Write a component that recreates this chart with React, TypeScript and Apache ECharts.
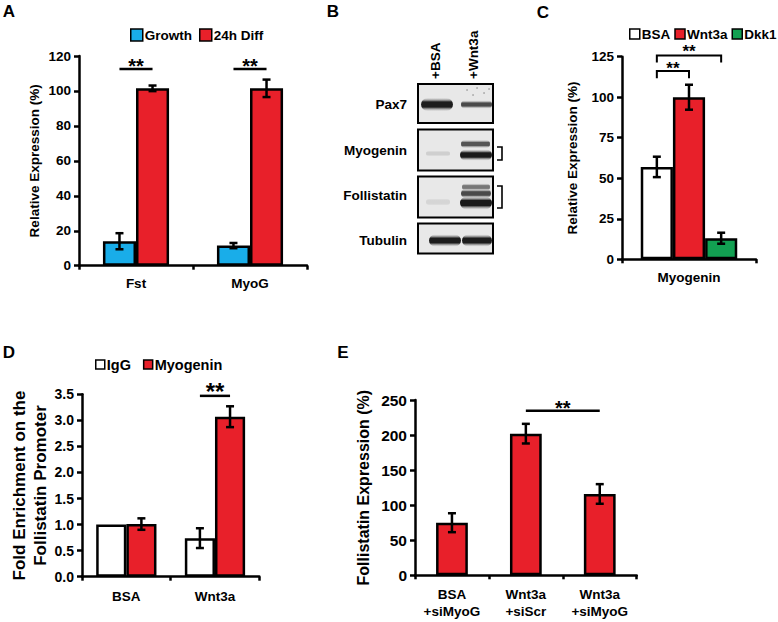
import React, { useEffect, useRef } from 'react';
import * as echarts from 'echarts';

const FONT = "'Liberation Sans', Arial, Helvetica, sans-serif";
const BLUE = '#19ade9';
const RED = '#e8202a';
const GREEN = '#12a052';
const WHITE = '#ffffff';
const BLACK = '#000000';

// ---------- Panel A ----------
const aCategories = ['Fst', 'MyoG'];
const aNames = ['Growth', '24h Diff'];
const aGrowth = [14, 11.5];
const aGrowthErr = [4.6, 1.5];
const aDiff = [101.5, 101.5];
const aDiffErr = [1.6, 5];
const aYMax = 120;
const aYStep = 20;
// [cat1, bar1, cat2, bar2, lineY, legY, starY]
const aSig = [
  [0, 0, 0, 1, 112.6, 112.6, 117],
  [1, 0, 1, 1, 112.6, 112.6, 117],
];

// ---------- Panel C ----------
const cCategories = ['Myogenin'];
const cNames = ['BSA', 'Wnt3a', 'Dkk1'];
const cValues = [57, 100, 13];
const cErrors = [6.3, 7.7, 3.4];
const cYMax = 125;
const cYStep = 25;
const cSig = [
  [0, 0, 0, 1, 116.2, 111.7, 119.9],
  [0, 0, 0, 2, 125.7, 121.4, 130.9],
];

// ---------- Panel D ----------
const dCategories = ['BSA', 'Wnt3a'];
const dNames = ['IgG', 'Myogenin'];
const dIgG = [1.0, 0.74];
const dIgGErr = [0, 0.19];
const dMyo = [1.01, 3.07];
const dMyoErr = [0.11, 0.2];
const dYMax = 3.5;
const dYStep = 0.5;
const dSig = [[1, 0, 1, 1, 3.47, 3.47, 3.66]];

// ---------- Panel E ----------
const eCategories = ['BSA\n+siMyoG', 'Wnt3a\n+siScr', 'Wnt3a\n+siMyoG'];
const eName = 'Follistatin';
const eValues = [75, 202, 116];
const eErrors = [13.5, 14, 14];
const eYMax = 250;
const eYStep = 50;
const eSig = [[1, 0, 2, 0, 234.7, 234.7, 245]];

// ---------- Panel B (western blot) ----------
const blotLanes = ['+BSA', '+Wnt3a'];
const blotRows = ['Pax7', 'Myogenin', 'Follistatin', 'Tubulin'];

const txt = (size: number) => ({
  color: BLACK,
  fontWeight: 'bold' as const,
  fontSize: size,
  fontFamily: FONT,
});

function xAxisFor(gi: number, data: string[], size: number, margin: number) {
  return {
    type: 'category',
    gridIndex: gi,
    data,
    boundaryGap: true,
    axisLine: { show: true, lineStyle: { color: BLACK, width: 2.5 } },
    axisTick: { show: true, length: 4, interval: 0, lineStyle: { color: BLACK, width: 2.5 } },
    axisLabel: { ...txt(size), margin, lineHeight: 17, interval: 0 },
    splitLine: { show: false },
  };
}

function yAxisFor(
  gi: number,
  max: number,
  step: number,
  size: number,
  name: string,
  nameSize: number,
  nameGap: number,
  decimals: number,
) {
  return {
    type: 'value',
    gridIndex: gi,
    min: 0,
    max,
    interval: step,
    axisLine: { show: true, lineStyle: { color: BLACK, width: 2.5 } },
    axisTick: { show: true, length: 5, lineStyle: { color: BLACK, width: 2.5 } },
    axisLabel: {
      ...txt(size),
      margin: 8,
      formatter: (v: number) => v.toFixed(decimals),
    },
    splitLine: { show: false },
    name,
    nameLocation: 'middle',
    nameGap,
    nameRotate: 90,
    nameTextStyle: { ...txt(nameSize), lineHeight: 21 },
  };
}

function barFor(gi: number, name: string, data: number[], color: string, width: string) {
  return {
    type: 'bar',
    name,
    xAxisIndex: gi,
    yAxisIndex: gi,
    data,
    barWidth: width,
    barGap: '0%',
    itemStyle: { color, borderColor: BLACK, borderWidth: 2.5 },
    z: 2,
  };
}

function errFor(gi: number, values: number[], errs: number[], idx: number, n: number, pct: number) {
  return {
    type: 'custom',
    xAxisIndex: gi,
    yAxisIndex: gi,
    z: 5,
    silent: true,
    data: values.map((v, i) => [i, v, errs[i]]),
    renderItem: (_p: any, api: any) => {
      const c = api.value(0);
      const v = api.value(1);
      const e = api.value(2);
      if (!e) return { type: 'group', children: [] };
      const band = api.size([1, 0])[0];
      const bw = band * pct;
      const off = (idx - (n - 1) / 2) * bw;
      const top = api.coord([c, v + e]);
      const bot = api.coord([c, v - e]);
      const x = top[0] + off;
      const cap = 4;
      const st = { stroke: BLACK, lineWidth: 2.5 };
      return {
        type: 'group',
        children: [
          { type: 'line', shape: { x1: x, y1: top[1], x2: x, y2: bot[1] }, style: st },
          { type: 'line', shape: { x1: x - cap, y1: top[1], x2: x + cap, y2: top[1] }, style: st },
          { type: 'line', shape: { x1: x - cap, y1: bot[1], x2: x + cap, y2: bot[1] }, style: st },
        ],
      };
    },
  };
}

function sigFor(gi: number, marks: number[][], n: number, pct: number, fs: number, lw: number) {
  return {
    type: 'custom',
    xAxisIndex: gi,
    yAxisIndex: gi,
    z: 6,
    silent: true,
    clip: false,
    data: marks,
    renderItem: (_p: any, api: any) => {
      const band = api.size([1, 0])[0];
      const bw = band * pct;
      const xOf = (c: number, s: number) => api.coord([c, 0])[0] + (s - (n - 1) / 2) * bw;
      const x1 = xOf(api.value(0), api.value(1));
      const x2 = xOf(api.value(2), api.value(3));
      const y = api.coord([0, api.value(4)])[1];
      const leg = api.coord([0, api.value(5)])[1];
      const ty = api.coord([0, api.value(6)])[1];
      return {
        type: 'group',
        children: [
          {
            type: 'polyline',
            shape: { points: [[x1, leg], [x1, y], [x2, y], [x2, leg]] },
            style: { stroke: BLACK, lineWidth: lw, fill: 'none' },
          },
          {
            type: 'text',
            x: (x1 + x2) / 2,
            y: ty + fs * 0.23,
            style: {
              text: '**',
              fill: BLACK,
              font: `bold ${fs}px ${FONT}`,
              align: 'center',
              verticalAlign: 'middle',
              textAlign: 'center',
              textVerticalAlign: 'middle',
            },
          },
        ],
      };
    },
  };
}

function legendFor(names: string[], left: number, top: number, size: number, icon: number, gap: number) {
  return {
    data: names,
    left,
    top,
    width: 300,
    padding: 0,
    icon: 'rect',
    itemWidth: icon,
    itemHeight: icon,
    itemGap: gap,
    selectedMode: false,
    textStyle: { ...txt(size), padding: [0, 0, 0, -3] },
    itemStyle: { borderColor: BLACK, borderWidth: 1.5 },
  };
}

function gText(text: string, x: number, y: number, size: number, align = 'center', rotation = 0) {
  return {
    type: 'text',
    x,
    y,
    rotation,
    silent: true,
    style: {
      text,
      fill: BLACK,
      font: `bold ${size}px ${FONT}`,
      align,
      verticalAlign: 'middle',
      textAlign: align,
      textVerticalAlign: 'middle',
    },
  };
}

function band(x: number, y: number, w: number, h: number, color: string) {
  return {
    type: 'rect',
    silent: true,
    shape: { x, y, width: w, height: h, r: h / 2 },
    style: {
      fill: {
        type: 'linear',
        x: 0,
        y: 0,
        x2: 0,
        y2: 1,
        colorStops: [
          { offset: 0, color: 'rgba(200,200,200,0.2)' },
          { offset: 0.3, color },
          { offset: 0.7, color },
          { offset: 1, color: 'rgba(200,200,200,0.2)' },
        ],
      },
    },
  };
}

function blotGraphic() {
  const boxX = 418;
  const boxW = 75;
  const boxes = [
    [84, 39],
    [129.5, 41],
    [176.5, 41],
    [223.5, 30],
  ];
  const rowY = [104, 150, 195.5, 240.5];
  const els: any[] = [];
  boxes.forEach(([y, h]) => {
    els.push({
      type: 'rect',
      silent: true,
      shape: { x: boxX, y, width: boxW, height: h },
      style: { fill: '#e8e8e8', stroke: BLACK, lineWidth: 2 },
    });
  });
  // bands
  els.push(band(421, 98, 32, 13, '#1c1c1c'));
  els.push(band(461, 100.5, 31, 8, '#4a4a4a'));
  els.push(band(426, 151, 24, 5, '#cfcfcf'));
  els.push(band(461, 140, 29, 8, '#555555'));
  els.push(band(460, 149.5, 32, 11, '#1a1a1a'));
  els.push(band(426, 199, 24, 6, '#d5d5d5'));
  els.push(band(462, 183.5, 28, 7, '#777777'));
  els.push(band(461, 189, 30, 9, '#4a4a4a'));
  els.push(band(460, 196.5, 32, 13, '#1a1a1a'));
  els.push(band(429, 234.5, 32, 12, '#1c1c1c'));
  els.push(band(462, 234.5, 30, 12, '#1c1c1c'));
  // speckles on Pax7 +Wnt3a lane
  [[467, 90], [477, 88], [484, 93], [489, 89], [473, 95]].forEach(([x, y]) =>
    els.push({ type: 'circle', silent: true, shape: { cx: x, cy: y, r: 0.7 }, style: { fill: '#777' } }),
  );
  // row labels
  blotRows.forEach((r, i) => els.push(gText(r, 407, rowY[i], 13.5, 'right')));
  // lane labels (rotated)
  els.push(gText(blotLanes[0], 435, 79, 13.5, 'left', Math.PI / 2));
  els.push(gText(blotLanes[1], 473, 79, 13.5, 'left', Math.PI / 2));
  // brackets
  els.push({
    type: 'polyline',
    silent: true,
    shape: { points: [[497, 147], [502, 147], [502, 160], [497, 160]] },
    style: { stroke: BLACK, lineWidth: 1.6, fill: 'none' },
  });
  els.push({
    type: 'polyline',
    silent: true,
    shape: { points: [[497, 186], [502, 186], [502, 208], [497, 208]] },
    style: { stroke: BLACK, lineWidth: 1.6, fill: 'none' },
  });
  return els;
}

export default function App() {
  const ref = useRef<HTMLDivElement>(null);
  useEffect(() => {
    if (!ref.current) return;
    const chart = echarts.init(ref.current, undefined, { renderer: 'svg' });
    const option: any = {
      animation: false,
      backgroundColor: '#ffffff',
      grid: [
        { left: 79, top: 56, width: 228, height: 209.7 },
        { left: 622, top: 56.7, width: 134, height: 202.6 },
        { left: 82, top: 394.3, width: 177.3, height: 182.4 },
        { left: 415, top: 400, width: 221.7, height: 175.3 },
      ],
      legend: [
        legendFor(aNames, 130, 28, 13.5, 12, 7),
        legendFor(cNames, 629, 27, 13.5, 10, 4),
        legendFor(dNames, 95, 357, 14.5, 9, 12),
      ],
      xAxis: [
        xAxisFor(0, aCategories, 13.5, 9),
        xAxisFor(1, cCategories, 13.5, 10),
        xAxisFor(2, dCategories, 13.5, 11),
        xAxisFor(3, eCategories, 13.5, 11),
      ],
      yAxis: [
        yAxisFor(0, aYMax, aYStep, 13.5, 'Relative Expression (%)', 13.5, 34, 0),
        yAxisFor(1, cYMax, cYStep, 13.5, 'Relative Expression (%)', 13.5, 39, 0),
        yAxisFor(2, dYMax, dYStep, 14, 'Fold Enrichment on the\nFollistatin Promoter', 17, 24, 1),
        yAxisFor(3, eYMax, eYStep, 15.5, 'Follistatin Expression (%)', 16, 41, 0),
      ],
      series: [
        barFor(0, aNames[0], aGrowth, BLUE, '29%'),
        barFor(0, aNames[1], aDiff, RED, '29%'),
        errFor(0, aGrowth, aGrowthErr, 0, 2, 0.29),
        errFor(0, aDiff, aDiffErr, 1, 2, 0.29),
        sigFor(0, aSig, 2, 0.29, 20, 2.5),

        barFor(1, cNames[0], [cValues[0]], WHITE, '24%'),
        barFor(1, cNames[1], [cValues[1]], RED, '24%'),
        barFor(1, cNames[2], [cValues[2]], GREEN, '24%'),
        errFor(1, [cValues[0]], [cErrors[0]], 0, 3, 0.24),
        errFor(1, [cValues[1]], [cErrors[1]], 1, 3, 0.24),
        errFor(1, [cValues[2]], [cErrors[2]], 2, 3, 0.24),
        sigFor(1, cSig, 3, 0.24, 17, 2),

        barFor(2, dNames[0], dIgG, WHITE, '34%'),
        barFor(2, dNames[1], dMyo, RED, '34%'),
        errFor(2, dIgG, dIgGErr, 0, 2, 0.34),
        errFor(2, dMyo, dMyoErr, 1, 2, 0.34),
        sigFor(2, dSig, 2, 0.34, 24, 2.5),

        barFor(3, eName, eValues, RED, '43%'),
        errFor(3, eValues, eErrors, 0, 1, 0.43),
        sigFor(3, eSig, 1, 0.43, 20, 2.5),
      ],
      graphic: [
        gText('A', 9, 11, 17),
        gText('B', 333, 11, 17),
        gText('C', 543, 12, 17),
        gText('D', 9, 352, 17),
        gText('E', 343, 352, 17),
        ...blotGraphic(),
      ],
    };
    chart.setOption(option);
    return () => chart.dispose();
  }, []);
  return (
    <div
      ref={ref}
      style={{ position: 'absolute', left: 0, top: 0, width: 778, height: 622, background: '#fff' }}
    />
  );
}
